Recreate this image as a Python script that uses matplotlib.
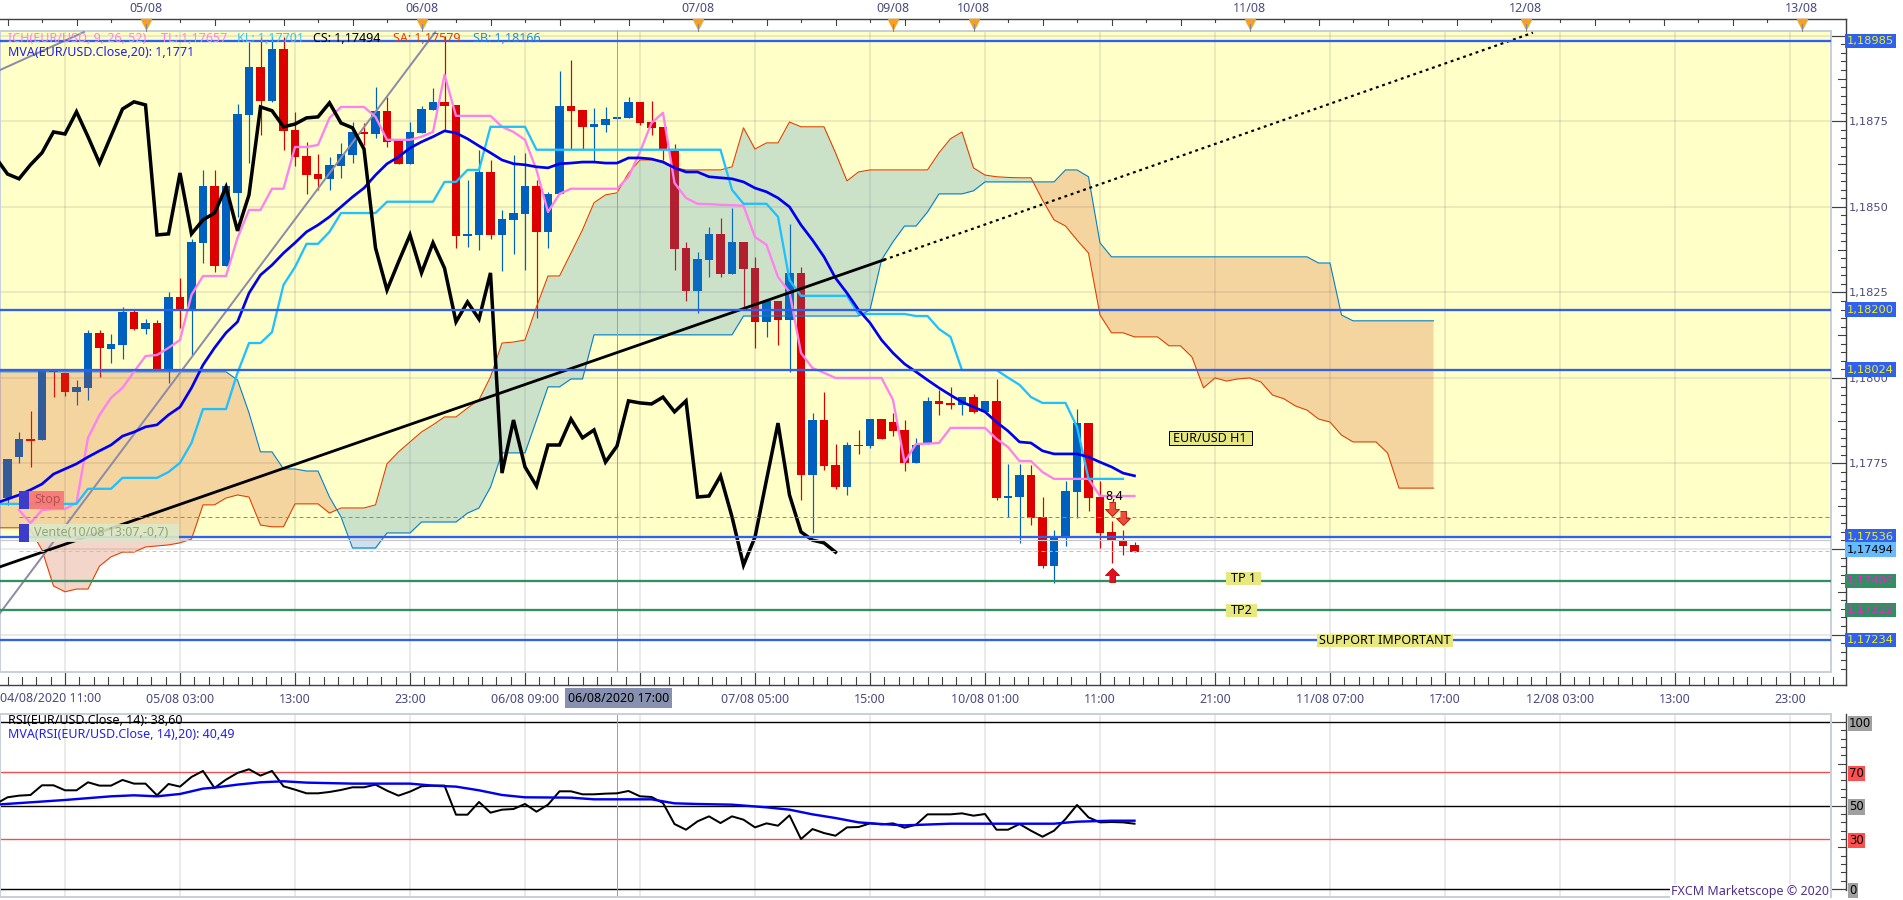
import matplotlib
matplotlib.use("Agg")
import matplotlib.pyplot as plt
import matplotlib.transforms as mtrans
from matplotlib.patches import Rectangle

plt.rcParams['font.family'] = ['Noto Sans', 'DejaVu Sans']

# ---- price data, in points (1 point = 0.00001) ----
candle_start = -5
opens = [117649,117769,117822,117819,118020,118015,117959,117971,118132,118085,
118096,118193,118143,118161,118026,118237,118199,118395,118561,118327,
118541,118769,118909,118810,118962,118725,118649,118596,118582,118620,
118652,118719,118713,118781,118696,118626,118716,118783,118807,118798,
118415,118418,118602,118418,118462,118479,118561,118427,118538,118795,
118783,118734,118740,118757,118760,118807,118748,118734,118664,118380,
118254,118345,118421,118304,118398,118321,118164,118225,118170,118307,
117717,117877,117746,117681,117804,117801,117880,117871,117848,117752,
117807,117933,117927,117921,117944,117901,117933,117649,117652,117717,
117594,117450,117532,117667,117868,117652,117550,117526,117512]
highs = [117763,117842,117904,118023,118026,118015,117994,118140,118140,118129,
118208,118199,118172,118170,118251,118292,118406,118608,118608,118561,
118801,118982,118997,118997,118997,118778,118690,118655,118646,118687,
118748,118745,118851,118821,118696,118748,118795,118848,119000,118798,
118579,118667,118637,118491,118652,118658,118579,118544,118897,118930,
118783,118789,118792,118763,118821,118807,118810,118734,118684,118398,
118368,118441,118468,118497,118398,118354,118225,118225,118450,118324,
117898,117959,117807,117813,117848,117880,117880,117898,117877,117825,
117944,117965,117974,117944,117953,117933,117997,117749,117749,117746,
117652,117556,117699,117909,117868,117699,117582,117556,117521]
lows = [117629,117752,117740,117819,117944,117947,117921,117936,118003,118044,
118056,118140,118129,118023,117985,118146,118067,118336,118310,118327,
118471,118628,118710,118807,118667,118620,118538,118550,118550,118585,
118628,118681,118702,118675,118626,118626,118716,118783,118725,118380,
118383,118374,118406,118313,118362,118316,118175,118380,118538,118669,
118669,118631,118719,118757,118760,118740,118710,118637,118316,118225,
118190,118295,118295,118304,118199,118088,118120,118096,118018,117643,
117547,117731,117676,117658,117778,117795,117822,117830,117728,117752,
117807,117892,117909,117892,117898,117901,117643,117594,117518,117570,
117445,117401,117509,117591,117611,117503,117459,117483,117491]
closes = [117763,117822,117816,118023,118018,117959,117974,118132,118088,118099,
118193,118143,118161,118026,118237,118199,118398,118561,118327,118561,
118772,118909,118810,118962,118722,118646,118593,118582,118623,118655,
118719,118713,118781,118690,118626,118719,118786,118807,118795,118415,
118421,118602,118418,118465,118482,118561,118427,118538,118795,118781,
118734,118742,118757,118763,118807,118745,118731,118669,118377,118254,
118348,118421,118304,118398,118319,118164,118225,118170,118307,117717,
117877,117743,117681,117804,117801,117880,117822,117845,117752,117804,
117933,117924,117921,117944,117901,117933,117649,117655,117717,117591,
117450,117532,117670,117868,117649,117547,117524,117509,117491]

chikou_start = -6
chikou = [118643,118596,118582,118623,118658,118719,118713,118778,118705,118628,118707,118786,118807,118798,
118418,118421,118599,118421,118462,118482,118558,118430,118535,118792,118781,118734,118742,118760,118763,118804,
118745,118731,118669,118380,118257,118339,118418,118307,118395,118321,118164,118222,118172,118307,
117722,117877,117740,117684,117804,117804,117880,117825,117848,117754,117801,117933,117927,117924,117944,117901,
117933,117652,117655,117714,117594,117453,117535,117702,117868,117658,117550,117526,117518,117491]

ma_start = -6
ma20 = [117634,117646,117658,117673,117690,117719,117734,117749,117769,117787,117804,117830,117842,117857,117863,
117892,117915,117971,118038,118088,118132,118164,118248,118301,118330,118365,118395,118427,118447,118471,118500,
118529,118555,118593,118626,118646,118672,118690,118705,118722,118716,118699,118678,118658,118637,118626,118623,
118617,118614,118626,118628,118631,118631,118628,118628,118643,118643,118640,118631,118614,118602,118602,118588,
118585,118582,118573,118555,118544,118526,118500,118447,118403,118354,118292,118248,118199,118161,118111,118073,
118041,118018,117994,117971,117950,117930,117915,117901,117871,117845,117813,117810,117787,117778,117778,117778,
117769,117754,117740,117722,117714]

kijun_start = -6
kijun = [117632,117632,117632,117632,117632,117632,117632,117632,117676,117676,117676,117708,117708,117708,117708,
117725,117752,117810,117909,117909,117909,118015,118102,118102,118134,118272,118324,118392,118392,118427,118482,
118482,118482,118482,118515,118515,118515,118515,118515,118573,118573,118608,118608,118734,118734,118734,118734,
118667,118667,118667,118667,118667,118667,118667,118667,118667,118667,118667,118667,118667,118667,118667,118667,118667,
118550,118509,118509,118509,118471,118286,118240,118240,118240,118240,118240,118187,118187,118187,118187,118187,
118181,118181,118143,118120,118023,118023,118023,118023,118001,117980,117944,117927,117927,117927,117857,117705,
117705,117705,117705]

tenkan_start = -4
tenkan = [117614,117576,117614,117617,117617,117635,117825,117892,117942,117971,118018,118064,118067,118088,118111,
118243,118298,118298,118298,118409,118491,118491,118553,118553,118675,118675,118681,118760,118792,118792,118792,
118763,118696,118696,118696,118705,118719,118886,118766,118766,118766,118766,118734,118719,118696,118608,118485,
118538,118553,118553,118553,118553,118553,118588,118661,118745,118775,118570,118526,118509,118508,118506,118505,
118503,118412,118389,118295,118251,118073,118029,118015,118000,118000,118000,118000,118000,117936,117754,117807,
117808,117810,117854,117854,117854,117854,117822,117798,117757,117757,117725,117705,117705,117705,117705,117655,
117655,117655,117655]

cloud_start = -6
senkou_a = [117562,117562,117562,117556,117497,117392,117375,117383,117383,117450,117477,117491,117491,117506,117509,
117512,117518,117529,117629,117629,117649,117658,117652,117570,117565,117565,117632,117632,117632,117605,117620,
117620,117620,117629,117749,117784,117813,117842,117863,117886,117886,117912,117936,118003,118102,118105,118111,
118208,118298,118298,118365,118433,118512,118535,118541,118599,118637,118637,118634,118614,118608,118608,118608,
118608,118617,118731,118669,118687,118687,118748,118734,118734,118734,118658,118576,118602,118608,118608,118608,
118608,118608,118608,118658,118699,118719,118614,118593,118588,118586,118585,118585,118520,118462,118444,118403,
118365,118184,118132,118132,118120,118120,118120,118094,118094,118061,117971,118000,117991,117997,118000,117988,
117950,117939,117918,117906,117880,117871,117833,117813,117813,117813,117781,117678,117678,117678,117678]
senkou_b = [118018,118018,118018,118018,118018,118018,118018,118018,118018,118018,118018,118018,118018,118018,118018,
118018,118018,118018,118018,118018,118018,117994,117898,117784,117784,117734,117734,117728,117728,117652,117594,
117503,117503,117503,117547,117547,117547,117579,117579,117579,117579,117605,117620,117681,117781,117781,117781,
117877,117974,117974,117997,117997,118126,118126,118126,118126,118126,118126,118126,118126,118126,118126,118126,
118126,118126,118181,118181,118181,118181,118181,118181,118181,118181,118181,118181,118181,118199,118345,118398,
118444,118444,118485,118538,118538,118538,118547,118573,118573,118573,118573,118573,118573,118573,118608,118608,
118588,118395,118354,118354,118354,118354,118354,118354,118354,118354,118354,118354,118354,118354,118354,118354,
118354,118354,118354,118354,118336,118336,118184,118167,118167,118167,118167,118167,118167,118167,118167]

level_prices = [118985, 118200, 118024, 117536, 117234]
target_prices = [117406, 117322]
current_price = 117494
stop_price = 117594
trend_bars = [-5.65, 71.2, 127.65]
trend_points = [117448, 118345, 119009]
gray_a_bars = [-5.65, 1.65]
gray_a_points = [118900, 119011]
gray_b_bars = [-5.65, 32.2]
gray_b_points = [117313, 119011]
sell_bars = [91, 92]
sell_points = [117617, 117591]
buy_bars = [91]
buy_points = [117424]
crosshair_bar = 48

rsi_start = -6
rsi = [51.0,54.9,55.9,56.3,62.1,62.1,59.1,59.1,63.9,61.9,61.9,65.3,63.1,63.1,56.1,62.9,61.3,67.1,70.7,60.5,65.5,69.5,
71.7,67.9,70.7,61.5,59.5,57.3,57.3,58.1,59.3,60.9,60.9,62.5,58.9,55.9,58.3,61.5,61.9,61.9,44.5,44.5,52.1,45.7,47.5,
47.9,50.9,46.3,50.5,58.5,58.5,56.7,56.7,57.1,57.3,58.7,55.5,55.1,51.5,38.9,35.5,40.5,43.5,39.5,43.5,41.5,36.9,39.3,
37.9,44.1,29.9,35.9,33.5,31.9,36.9,37.1,39.3,38.7,39.3,36.7,38.5,44.7,44.7,44.7,45.3,43.9,44.9,35.5,35.5,38.9,34.9,
31.3,34.9,41.9,50.3,42.9,39.9,40.1,39.9,39.1]
rsi_ma_bars = [-6,0,4,6,8,10,12,13,15,17,19,21,25,30,32,34,36,38,40,44,46,51,53,55,58,61,63,65,67,69,71,73,77,83,86,88,91,93]
rsi_ma = [50.5,53.3,55.5,56.1,55.5,56.9,60.1,60.7,62.5,63.9,64.5,63.7,63.1,63.1,61.9,61.3,59.1,56.3,54.9,54.7,53.7,53.7,
51.3,50.9,50.5,48.9,47.5,44.7,42.5,39.9,38.9,38.1,39.1,39.1,39.1,40.3,40.9,40.9]

price_tick_values = [1.1725, 1.175, 1.1775, 1.18, 1.1825, 1.185, 1.1875, 1.19]
price_tick_labels = ['', '', '1,1775', '1,1800', '1,1825', '1,1850', '1,1875', '']
time_bars = list(range(0, 160, 10))
time_labels = ['', '05/08 03:00', '13:00', '23:00', '06/08 09:00', '', '07/08 05:00', '15:00',
               '10/08 01:00', '11:00', '21:00', '11/08 07:00', '17:00', '12/08 03:00', '13:00', '23:00']
day_bars = [7, 31, 55, 72, 79, 103, 127, 151]
day_labels = ['05/08', '06/08', '07/08', '09/08', '10/08', '11/08', '12/08', '13/08']

# ---- layout ----
W, H = 1903, 900
def box(l, t, r, b):
    return [l / W, 1 - b / H, (r - l) / W, (b - t) / H]
def px(n):
    return n * 0.72

BLUE, RED = '#0060BF', '#DD0000'
LEVEL, TARGET = '#3060F0', '#309060'
FRAME = '#C8D0DA'
INK = '#4A4A80'
AXC = '#404040'
PF = 8.2

fig = plt.figure(figsize=(W / 100, H / 100), dpi=100, facecolor='white')
ax = fig.add_axes(box(0, 31, 1831, 672))
rs = fig.add_axes(box(0, 714, 1831, 897))
ov = fig.add_axes(box(0, 0, W, H), zorder=20)
ov.set_xlim(0, W); ov.set_ylim(H, 0); ov.axis('off'); ov.patch.set_alpha(0)
ov.set_autoscale_on(False)

xl = (-65 / 11.5, (1831 - 65) / 11.5)
pts = lambda seq: [v / 1e5 for v in seq]
bars_from = lambda start, seq: list(range(start, start + len(seq)))

# ---- main panel ----
ax.set_xlim(*xl)
ax.set_ylim(1.171406, 1.19014)
ax.set_autoscale_on(False)
ax.axhspan(1.17536, 1.19014, color='#FFFFC8', zorder=0.1, lw=0)
ax.set_axisbelow(True)
ax.grid(True, color='#777777', alpha=0.15, lw=px(2))

cx = bars_from(candle_start, opens)
cols = [BLUE if c >= o else RED for o, c in zip(opens, closes)]
ax.vlines(cx, pts(lows), pts(highs), colors=cols, lw=px(1.2), zorder=2)
ax.bar(cx, [abs(c - o) / 1e5 for o, c in zip(opens, closes)],
       bottom=[min(o, c) / 1e5 for o, c in zip(opens, closes)],
       width=0.78, color=cols, lw=0, zorder=2.1)

kx = bars_from(cloud_start, senkou_a)
sa, sb = pts(senkou_a), pts(senkou_b)
ax.fill_between(kx, sa, sb, where=[a >= b for a, b in zip(sa, sb)], interpolate=True,
                color='#2A89C8', alpha=0.24, lw=0, zorder=3)
ax.fill_between(kx, sa, sb, where=[a <= b for a, b in zip(sa, sb)], interpolate=True,
                color='#D55021', alpha=0.24, lw=0, zorder=3)
ax.plot(kx, sa, color='#E04000', lw=px(1.1), zorder=4)
ax.plot(kx, sb, color='#0080C8', lw=px(1.1), zorder=4)

ax.axvline(crosshair_bar, color='#9A9AC8', lw=px(1), zorder=4)
ax.plot(gray_a_bars, pts(gray_a_points), color='#8C8CA8', lw=px(2), zorder=4.5)
ax.plot(gray_b_bars, pts(gray_b_points), color='#8C8CA8', lw=px(2), zorder=4.5)
ax.plot(bars_from(tenkan_start, tenkan), pts(tenkan), color='#FF80F0', lw=px(2.3), zorder=5)
ax.plot(bars_from(kijun_start, kijun), pts(kijun), color='#20C0FF', lw=px(2.3), zorder=5.1)
ax.plot(bars_from(ma_start, ma20), pts(ma20), color='#0000F0', lw=px(2.7), zorder=5.2)
ax.plot(bars_from(chikou_start, chikou), pts(chikou), color='black', lw=px(3.5), zorder=5.3,
        solid_joinstyle='miter')
ax.plot(trend_bars[:2], pts(trend_points[:2]), color='black', lw=px(2.8), zorder=5.4)
ax.plot(trend_bars[1:], pts(trend_points[1:]), color='black', lw=px(2.2), zorder=5.4,
        linestyle=(0, (1.3, 1.7)))

for p in level_prices:
    ax.axhline(p / 1e5, color=LEVEL, lw=px(2.3), zorder=6)
for p in target_prices:
    ax.axhline(p / 1e5, color=TARGET, lw=px(2.3), zorder=6)
ax.plot([-4, xl[1]], [stop_price / 1e5] * 2, color='#F06060', lw=px(1), linestyle=(0, (4, 3)), zorder=5.5)
ax.plot([-4, xl[1]], [current_price / 1e5] * 2, color='#B8CCA0', lw=px(1), linestyle=(0, (4, 3)), zorder=5.5)
ax.axhline(1.17526, color='#C8C8C8', lw=px(1.2), zorder=5.5)

down = [(-.22, .5), (.22, .5), (.22, 0), (.5, 0), (0, -.5), (-.5, 0), (-.22, 0)]
up = [(x, -y) for x, y in down]
ax.plot(sell_bars, pts(sell_points), ls='none', marker=down, ms=10, mfc='#E8503A', mec='#C00000', mew=0.6, zorder=7)
ax.plot(buy_bars, pts(buy_points), ls='none', marker=up, ms=10, mfc='#E01020', mec='#C00000', mew=0.6, zorder=7)

ax.yaxis.tick_right()
ax.set_yticks(price_tick_values)
ax.set_yticklabels(price_tick_labels, fontsize=PF, color=INK, family='DejaVu Sans')
ax.tick_params(axis='y', length=px(14.5), width=px(1.2), color=AXC, pad=2)
ax.set_xticks(time_bars)
ax.set_xticklabels(time_labels, fontsize=9, color=INK)
ax.tick_params(axis='x', length=px(13), width=px(1.2), color=AXC, pad=5.5)
for s in ax.spines.values():
    s.set_color(FRAME); s.set_linewidth(px(2))

# ---- RSI panel ----
rs.set_xlim(*xl)
rs.set_ylim(-4.8, 104.8)
rs.set_autoscale_on(False)
rs.set_xticks(time_bars)
rs.set_xticklabels([])
rs.tick_params(axis='x', length=0)
rs.set_axisbelow(True)
rs.grid(True, axis='x', color='#777777', alpha=0.2, lw=px(1.5))
for lv, col in [(100, 'black'), (50, 'black'), (0, 'black'), (70, '#F05050'), (30, '#F05050')]:
    rs.axhline(lv, color=col, lw=px(1.4), zorder=2)
rs.axvline(crosshair_bar, color='#9A9AC8', lw=px(1), zorder=2.5)
rs.plot(bars_from(rsi_start, rsi), rsi, color='black', lw=px(2), zorder=3)
rs.plot(rsi_ma_bars, rsi_ma, color='#0000F0', lw=px(2.4), zorder=3.1)
rs.yaxis.tick_right()
rs.set_yticks([0, 30, 50, 70, 100])
rs.set_yticklabels(['0', '30', '50', '70', '100'], fontsize=8.5, color='black', family='DejaVu Sans')
rs.tick_params(axis='y', length=px(14.5), width=px(1.2), color=AXC, pad=2.5)
for t, lab, lv in zip(rs.yaxis.get_major_ticks(), rs.get_yticklabels(), [0, 30, 50, 70, 100]):
    gray = lv in (0, 50, 100)
    lab.set_bbox(dict(boxstyle='square,pad=0.1', fc='#A0A0A0' if gray else '#FF5050', ec='none'))
    if not gray:
        t.tick2line.set_visible(False)
for s in rs.spines.values():
    s.set_color(FRAME); s.set_linewidth(px(2))

# ---- rulers and axis chrome ----
tx = mtrans.blended_transform_factory(ax.transData, ov.transData)
ty = mtrans.blended_transform_factory(ov.transData, ax.transData)
try_ = mtrans.blended_transform_factory(ov.transData, rs.transData)
ov.plot([0, 1845.5], [19, 19], color=AXC, lw=px(1.4))
ov.plot([0, 1845.5], [685, 685], color=AXC, lw=px(1.4))
ov.plot([1845.5, 1845.5], [19, 685], color=AXC, lw=px(1.4))
ov.plot([1845.5, 1845.5], [714, 890], color=AXC, lw=px(1.4))

for k in range(-5, 154):
    if k % 3 == 1:
        ov.plot([k, k], [19, 24.5 if k % 6 == 1 else 22], color=AXC, lw=px(1.1), transform=tx)
for i in range(-4, 124):
    if i % 8 != 0:
        ov.plot([i * 1.25] * 2, [685, 677], color=AXC, lw=px(1.1), transform=tx)
for n in range(4686, 4761):
    if n % 10 != 0:
        p = n * 0.00025
        ov.plot([1837.5 if n % 5 == 0 else 1840.5, 1845.5], [p, p], color=AXC, lw=px(1.1), transform=ty)
for lv in range(0, 101, 5):
    if lv % 50 != 0:
        ov.plot([1837.5 if lv % 25 == 0 else 1840.5, 1845.5], [lv, lv], color=AXC, lw=px(1.1), transform=try_)

for b, lab in zip(day_bars, day_labels):
    ov.plot([b], [24], marker='v', ms=7.2, color='#F5A020', mec='#F5A020', ls='none', transform=tx)
    ov.plot([b, b], [24, 31], color='#888888', lw=px(1), transform=tx)
    ov.text(b, 9, lab, ha='center', va='center', fontsize=9, color=INK, transform=tx)

ov.text(0, 699, '04/08/2020 11:00', ha='left', va='center', fontsize=9, color=INK)
ov.text(618.5, 698, '06/08/2020 17:00', ha='center', va='center', fontsize=9, color='black',
        bbox=dict(boxstyle='square,pad=0.25', fc='#8890B0', ec='none'))

for p in level_prices:
    ov.text(1847, p / 1e5, '{:.5f}'.format(p / 1e5).replace('.', ','), transform=ty, va='center', ha='left',
            fontsize=PF, family='DejaVu Sans', color='#F0F020',
            bbox=dict(boxstyle='square,pad=0.2', fc=LEVEL, ec='none'))
for p in target_prices:
    ov.text(1847, p / 1e5, '{:.5f}'.format(p / 1e5).replace('.', ','), transform=ty, va='center', ha='left',
            fontsize=PF, family='DejaVu Sans', color='#F020D0',
            bbox=dict(boxstyle='square,pad=0.2', fc=TARGET, ec='none'))
ov.text(1847, current_price / 1e5 + 0.00004, '1,17494', transform=ty, va='center', ha='left',
        fontsize=PF, family='DejaVu Sans', color='black',
        bbox=dict(boxstyle='square,pad=0.2', fc='#66BBFF', ec='none'))

# ---- legends and annotations ----
def legend(x, y, s, c, fs=9):
    ov.text(x, y, s, color=c, fontsize=fs, va='center', ha='left')
legend(8, 39, 'ICH(EUR/USD, 9, 26, 52)', '#FF80F0')
legend(161, 39, 'TL: 1,17657', '#FF80F0')
legend(237, 39, 'KL: 1,17701', '#30C8FF')
legend(313, 39, 'CS: 1,17494', 'black')
legend(393, 39, 'SA: 1,17579', '#E04000')
legend(473, 39, 'SB: 1,18166', '#2090D8')
legend(8, 52, 'MVA(EUR/USD.Close,20): 1,1771', '#2020F0')
legend(8, 721, 'RSI(EUR/USD.Close, 14): 38,60', 'black')
legend(8, 734, 'MVA(RSI(EUR/USD.Close, 14),20): 40,49', '#2020F0')
ov.text(1829, 891, 'FXCM Marketscope © 2020', ha='right', va='center', fontsize=9, color='#503090',
        bbox=dict(boxstyle='square,pad=0.05', fc='white', ec='none'))

def tag(x0, y0, x1, y1, s, fc, ec='none', tc='black'):
    ov.add_patch(Rectangle((x0, y0), x1 - x0, y1 - y0, fc=fc, ec=ec, lw=px(1)))
    ov.text((x0 + x1) / 2, (y0 + y1) / 2, s, ha='center', va='center', fontsize=9, color=tc)
tag(1168.5, 431, 1251.5, 445, 'EUR/USD H1', '#E8E880', ec='black')
tag(1226, 572, 1261, 585, 'TP 1', '#E8E880')
tag(1226, 604, 1257, 617, 'TP2', '#E8E880')
tag(1317, 634, 1453, 647, 'SUPPORT IMPORTANT', '#E8E880')
ov.text(1114, 496, '8,4', ha='center', va='center', fontsize=9, color='black')

ov.add_patch(Rectangle((19, 491), 10, 18, fc='#3C3CC8', ec='none'))
ov.add_patch(Rectangle((29, 491), 35, 18, fc='#F87878', ec='none', alpha=0.95))
ov.text(34, 500, 'Stop', ha='left', va='center', fontsize=9, color='#B85050')
ov.add_patch(Rectangle((19, 524), 10, 18, fc='#3C3CC8', ec='none'))
ov.add_patch(Rectangle((29, 524), 150, 18, fc='#DCE8C8', ec='none', alpha=0.9))
ov.text(34, 533, 'Vente(10/08 13:07,-0,7)', ha='left', va='center', fontsize=9, color='#8EA878')

fig.savefig('out.png', dpi=100)
